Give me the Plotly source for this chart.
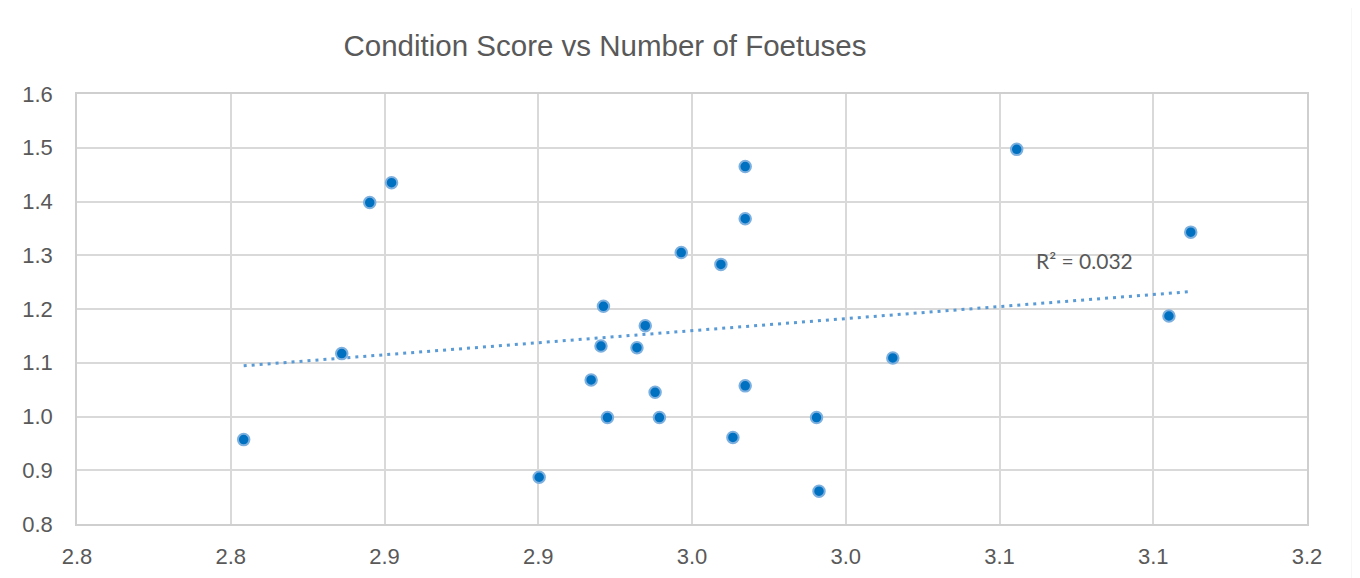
import numpy as np
import plotly.graph_objects as go

# Data
condition_score = [2.8542, 2.8861, 2.8952, 2.9023, 2.9503, 2.9672, 2.9704, 2.9712,
                   2.9725, 2.9821, 2.9848, 2.9880, 2.9894, 2.9965, 3.0094, 3.0133,
                   3.0173, 3.0173, 3.0173, 3.0405, 3.0413, 3.0653, 3.1056, 3.1551,
                   3.1622]
num_foetuses = [0.957, 1.117, 1.398, 1.435, 0.887, 1.068, 1.131, 1.205,
                0.998, 1.128, 1.169, 1.045, 0.998, 1.305, 1.283, 0.961,
                1.465, 1.368, 1.057, 0.998, 0.861, 1.109, 1.497, 1.187,
                1.343]

x_tickvals = [2.8, 2.85, 2.9, 2.95, 3.0, 3.05, 3.1, 3.15, 3.2]
x_ticktext = ["2.8", "2.8", "2.9", "2.9", "3.0", "3.0", "3.1", "3.1", "3.2"]
y_tickvals = [0.8, 0.9, 1.0, 1.1, 1.2, 1.3, 1.4, 1.5, 1.6]
y_ticktext = ["0.8", "0.9", "1.0", "1.1", "1.2", "1.3", "1.4", "1.5", "1.6"]

title_text = "Condition Score vs Number of Foetuses"
r2_text = "R² = 0.032"

# Linear trendline (least squares) from the data
x_arr = np.array(condition_score)
y_arr = np.array(num_foetuses)
slope, intercept = np.polyfit(x_arr, y_arr, 1)
trend_x = [x_arr.min(), x_arr.max()]
trend_y = [slope * v + intercept for v in trend_x]

text_color = "#595959"
grid_color = "#d9d9d9"

# The page body adds an 8px offset; size the figure so the plot area lands at
# x 77..1307, y 94..524 in the window.
OFF = 8
W, H = 1360 - OFF, 578 - OFF
PL, PR, PT, PB = 77 - OFF, 1307 - OFF, 94 - OFF, 524 - OFF
pw, ph = PR - PL, PB - PT

fig = go.Figure()
fig.add_trace(go.Scatter(
    x=trend_x, y=trend_y, mode="lines",
    line=dict(color="#5B9BD5", width=3, dash="3px,5px"),
    hoverinfo="skip", showlegend=False,
))
fig.add_trace(go.Scatter(
    x=condition_score, y=num_foetuses, mode="markers",
    marker=dict(size=11.5, color="#0070C0", line=dict(color="#7DB0DE", width=2)),
    showlegend=False,
))

fig.add_annotation(
    x=3.1275, y=1.290, xref="x", yref="y", text=r2_text, showarrow=False,
    font=dict(family="Lato, Liberation Sans, sans-serif", size=21, color=text_color),
)

# chart area border
fig.add_shape(
    type="rect", xref="paper", yref="paper",
    x0=(5 - 77) / pw, x1=(1352.5 - 77) / pw,
    y0=-(600 - 524) / ph, y1=(524 - 7) / ph,
    line=dict(color="#d9d9d9", width=1.5), fillcolor="rgba(0,0,0,0)", layer="below",
)

fig.update_layout(
    width=W, height=H,
    margin=dict(l=PL, r=W - PR, t=PT, b=H - PB, autoexpand=False),
    paper_bgcolor="white", plot_bgcolor="white",
    font=dict(family="Liberation Sans, Arial, sans-serif", color=text_color),
    title=dict(
        text=title_text, x=(605 - OFF) / W, xanchor="center",
        y=1 - (46 - OFF) / H, yanchor="middle",
        xref="container", yref="container",
        font=dict(family="Liberation Sans, Arial, sans-serif", size=29.5, color=text_color),
    ),
    xaxis=dict(
        range=[2.8, 3.2], tickvals=x_tickvals, ticktext=x_ticktext,
        showgrid=True, gridcolor=grid_color, gridwidth=1.5,
        showline=True, linecolor="#cfcfcf", linewidth=1.5, mirror=True,
        zeroline=False, ticks="", ticklabelstandoff=12,
        tickfont=dict(size=22, color=text_color),
    ),
    yaxis=dict(
        range=[0.8, 1.6], tickvals=y_tickvals, ticktext=y_ticktext,
        showgrid=True, gridcolor=grid_color, gridwidth=1.5,
        showline=True, linecolor="#cfcfcf", linewidth=1.5, mirror=True,
        zeroline=False, ticks="", ticklabelstandoff=18,
        tickfont=dict(size=22, color=text_color),
    ),
)

fig.write_html("out.html")
